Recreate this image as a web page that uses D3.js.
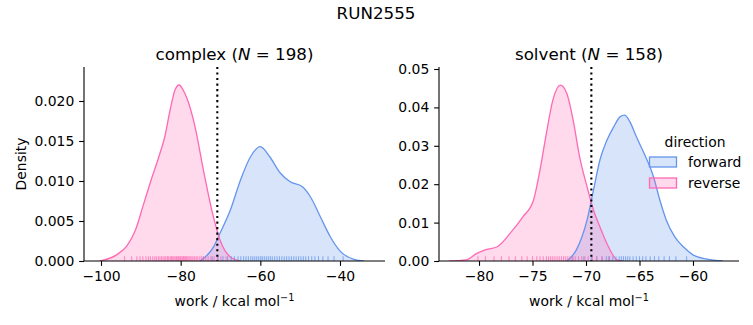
<!DOCTYPE html>
<html><head><meta charset="utf-8">
<script src="https://cdn.jsdelivr.net/npm/d3@7"></script>
<style>body{margin:0;background:#fff}svg{display:block}text{font-family:"DejaVu Sans",sans-serif;fill:#000}</style>
</head><body><div id="chart"></div>
<script>
const suptitle = "RUN2555";
const directions = ["forward", "reverse"];
const colors = {forward: "#6495ED", reverse: "#FF69B4"};

// complex panel
const complexN = 198;
const complexXTicks = [-100, -80, -60, -40];
const complexYTicks = [0, 0.005, 0.010, 0.015, 0.020];
const complexDG = -70.8;
const complexForwardKde = [[-75.1,0],[-71.7,0.0018],[-70.1,0.0035],[-67.5,0.0064],[-65,0.0101],[-62.5,0.0130],[-60,0.0143],[-57.6,0.0130],[-55,0.0110],[-52.5,0.0099],[-49.5,0.0093],[-47.4,0.0080],[-44.9,0.0055],[-42.4,0.0030],[-39.9,0.0012],[-36.5,0.0002],[-34,0]];
const complexReverseKde = [[-100.3,0],[-96,0.0008],[-93.5,0.0019],[-91.4,0.0038],[-89.5,0.0068],[-87.5,0.0100],[-85.5,0.0130],[-84.0,0.0155],[-82.6,0.0190],[-81.4,0.0214],[-80.4,0.0220],[-79.4,0.0214],[-78.4,0.0203],[-76.4,0.0168],[-74.3,0.0114],[-72.2,0.0064],[-70.1,0.0026],[-67.5,0.0005],[-65,0]];
const complexForwardRug = [-74.3,-72.1,-70.6,-69.4,-68.2,-67.3,-66.5,-65.6,-64.9,-64.2,-63.6,-63.0,-62.4,-61.9,-61.4,-60.9,-60.4,-59.9,-59.5,-59.0,-58.5,-58.0,-57.5,-57.0,-56.4,-55.8,-55.2,-54.6,-54.0,-53.4,-52.8,-52.2,-51.6,-51.0,-50.4,-49.8,-49.2,-48.6,-47.9,-47.1,-46.3,-45.4,-44.3,-43.0,-41.5,-39.2];
const complexReverseRug = [-94.1,-92.3,-91.0,-90.2,-89.5,-88.7,-88.1,-87.6,-87.0,-86.5,-86.1,-85.6,-85.2,-84.8,-84.4,-84.0,-83.7,-83.3,-83.0,-82.6,-82.3,-82.0,-81.7,-81.4,-81.1,-80.9,-80.6,-80.4,-80.1,-79.9,-79.6,-79.3,-79.1,-78.8,-78.5,-78.2,-77.9,-77.6,-77.2,-76.9,-76.5,-76.1,-75.7,-75.2,-74.8,-74.3,-73.7,-73.1,-72.4,-71.6,-70.8,-69.9,-68.6];

// solvent panel
const solventN = 158;
const solventXTicks = [-80, -75, -70, -65, -60];
const solventYTicks = [0, 0.01, 0.02, 0.03, 0.04, 0.05];
const solventDG = -69.5;
const solventForwardKde = [[-71.8,0],[-70.9,0.0029],[-69.9,0.0107],[-69.3,0.0185],[-68.7,0.0263],[-68.1,0.0311],[-67.4,0.0350],[-66.8,0.0376],[-66.4,0.0380],[-65.9,0.0363],[-65.3,0.0324],[-64.5,0.0276],[-63.7,0.0220],[-63.1,0.0159],[-62.5,0.0107],[-61.7,0.0063],[-60.9,0.0037],[-60.0,0.0016],[-58.7,0.0005],[-57.2,0]];
const solventReverseKde = [[-82.8,0],[-81.2,0.0003],[-80.2,0.0020],[-79.3,0.0030],[-78.3,0.0037],[-77.1,0.0072],[-75.9,0.0115],[-74.9,0.0159],[-74.3,0.0237],[-73.7,0.0333],[-73.1,0.0419],[-72.4,0.0458],[-71.8,0.0437],[-71.2,0.0367],[-70.6,0.0272],[-69.9,0.0193],[-69.3,0.0133],[-68.7,0.0089],[-67.9,0.0037],[-67.1,0.0003],[-66.5,0]];
const solventForwardRug = [-71.3,-70.2,-69.5,-69.0,-68.5,-68.1,-67.8,-67.5,-67.2,-66.9,-66.7,-66.5,-66.3,-66.1,-65.9,-65.6,-65.3,-65.0,-64.7,-64.4,-64.0,-63.6,-63.2,-62.7,-62.2,-61.6,-60.6];
const solventReverseRug = [-80.1,-79.4,-78.6,-77.9,-77.2,-76.6,-76.0,-75.5,-75.0,-74.6,-74.3,-74.0,-73.7,-73.5,-73.3,-73.1,-72.9,-72.7,-72.5,-72.3,-72.1,-71.9,-71.7,-71.5,-71.2,-71.0,-70.7,-70.4,-70.1,-69.8,-69.4,-69.0,-68.5,-67.9];

const W = 753, H = 325;
const svg = d3.select("#chart").append("svg").attr("width", W).attr("height", H);
const FS = 13.9;

svg.append("text").attr("x", 376).attr("y", 19).attr("text-anchor", "middle")
  .style("font-size", "16.7px").text(suptitle);

const panels = [
  {name: "complex", N: complexN, left: 84, right: 385, xdom: [-104.27, -28.7], ydom: [0, 0.02425],
   xticks: complexXTicks, yticks: complexYTicks, yfmt: d3.format(".3f"), dg: complexDG,
   kde: {forward: complexForwardKde, reverse: complexReverseKde},
   rug: {forward: complexForwardRug, reverse: complexReverseRug}, ylabel: true},
  {name: "solvent", N: solventN, left: 439, right: 739, xdom: [-83.74, -55.7], ydom: [0, 0.05052],
   xticks: solventXTicks, yticks: solventYTicks, yfmt: d3.format(".2f"), dg: solventDG,
   kde: {forward: solventForwardKde, reverse: solventReverseKde},
   rug: {forward: solventForwardRug, reverse: solventReverseRug}, ylabel: false}
];
const plotTop = 67, plotBottom = 261;

panels.forEach((p, i) => {
  const x = d3.scaleLinear().domain(p.xdom).range([p.left, p.right]);
  const y = d3.scaleLinear().domain(p.ydom).range([plotBottom, plotTop]);
  const g = svg.append("g");
  const clipId = "clip" + i;
  g.append("clipPath").attr("id", clipId).append("rect")
    .attr("x", p.left).attr("y", plotTop).attr("width", p.right - p.left).attr("height", plotBottom - plotTop);
  const plot = g.append("g").attr("clip-path", `url(#${clipId})`);

  const area = d3.area().x(d => x(d[0])).y0(y(0)).y1(d => y(d[1])).curve(d3.curveMonotoneX);
  const line = d3.line().x(d => x(d[0])).y(d => y(d[1])).curve(d3.curveMonotoneX);

  directions.forEach(dir => {
    plot.append("path").datum(p.kde[dir]).attr("d", area)
      .attr("fill", colors[dir]).attr("fill-opacity", 0.25).attr("stroke", "none");
  });
  directions.forEach(dir => {
    plot.append("path").datum(p.kde[dir]).attr("d", line)
      .attr("fill", "none").attr("stroke", colors[dir]).attr("stroke-width", 1.3);
  });
  directions.forEach(dir => {
    plot.selectAll(null).data(p.rug[dir]).enter().append("line")
      .attr("x1", d => x(d)).attr("x2", d => x(d))
      .attr("y1", plotBottom).attr("y2", plotBottom - 4.85)
      .attr("stroke", colors[dir]).attr("stroke-opacity", 0.7).attr("stroke-width", 1.1);
  });

  plot.append("line").attr("x1", x(p.dg)).attr("x2", x(p.dg)).attr("y1", plotTop).attr("y2", plotBottom)
    .attr("stroke", "#000").attr("stroke-width", 2.08).attr("stroke-dasharray", "2.08,3.44");

  // axes
  const xa = g.append("g").attr("transform", `translate(0,${plotBottom})`)
    .call(d3.axisBottom(x).tickValues(p.xticks).tickSize(4.86).tickPadding(4.9)
      .tickFormat(d => d3.format("d")(d).replace("-", "\u2212")));
  const ya = g.append("g").attr("transform", `translate(${p.left},0)`)
    .call(d3.axisLeft(y).tickValues(p.yticks).tickSize(4.86).tickPadding(4.9).tickFormat(p.yfmt));
  [xa, ya].forEach(a => {
    a.select(".domain").attr("stroke", "#000").attr("stroke-width", 1.1);
    a.selectAll(".tick line").attr("stroke", "#000").attr("stroke-width", 1.1);
    a.selectAll(".tick text").style("font-size", FS + "px").style("font-family", "DejaVu Sans").attr("fill", "#000");
  });
  ya.select(".domain").attr("d", `M0,${plotBottom}V${plotTop}`);
  xa.select(".domain").attr("d", `M${p.left},0H${p.right}`);

  // title
  const cx = (p.left + p.right) / 2;
  const t = g.append("text").attr("x", cx).attr("y", 60).attr("text-anchor", "middle").style("font-size", "16.7px");
  t.append("tspan").text(p.name + " (");
  t.append("tspan").style("font-style", "italic").text("N");
  t.append("tspan").text(" = " + p.N + ")");

  // x label
  const xl = g.append("text").attr("x", cx).attr("y", 306).attr("text-anchor", "middle").style("font-size", FS + "px");
  xl.append("tspan").text("work / kcal mol");
  xl.append("tspan").attr("dy", -5).style("font-size", "9.7px").text("\u22121");

  if (p.ylabel) {
    g.append("text").attr("transform", `translate(26,${(plotTop + plotBottom) / 2}) rotate(-90)`)
      .attr("text-anchor", "middle").style("font-size", FS + "px").text("Density");
  }
});

// legend
const lg = svg.append("g");
lg.append("text").attr("x", 695).attr("y", 147).attr("text-anchor", "middle").style("font-size", FS + "px").text("direction");
directions.forEach((dir, k) => {
  const yy = 157 + k * 21;
  lg.append("rect").attr("x", 649.5).attr("y", yy).attr("width", 27).attr("height", 10)
    .attr("fill", colors[dir]).attr("fill-opacity", 0.25).attr("stroke", colors[dir]).attr("stroke-width", 1.3);
  lg.append("text").attr("x", 688).attr("y", yy + 10).style("font-size", FS + "px").text(dir);
});
</script></body></html>
